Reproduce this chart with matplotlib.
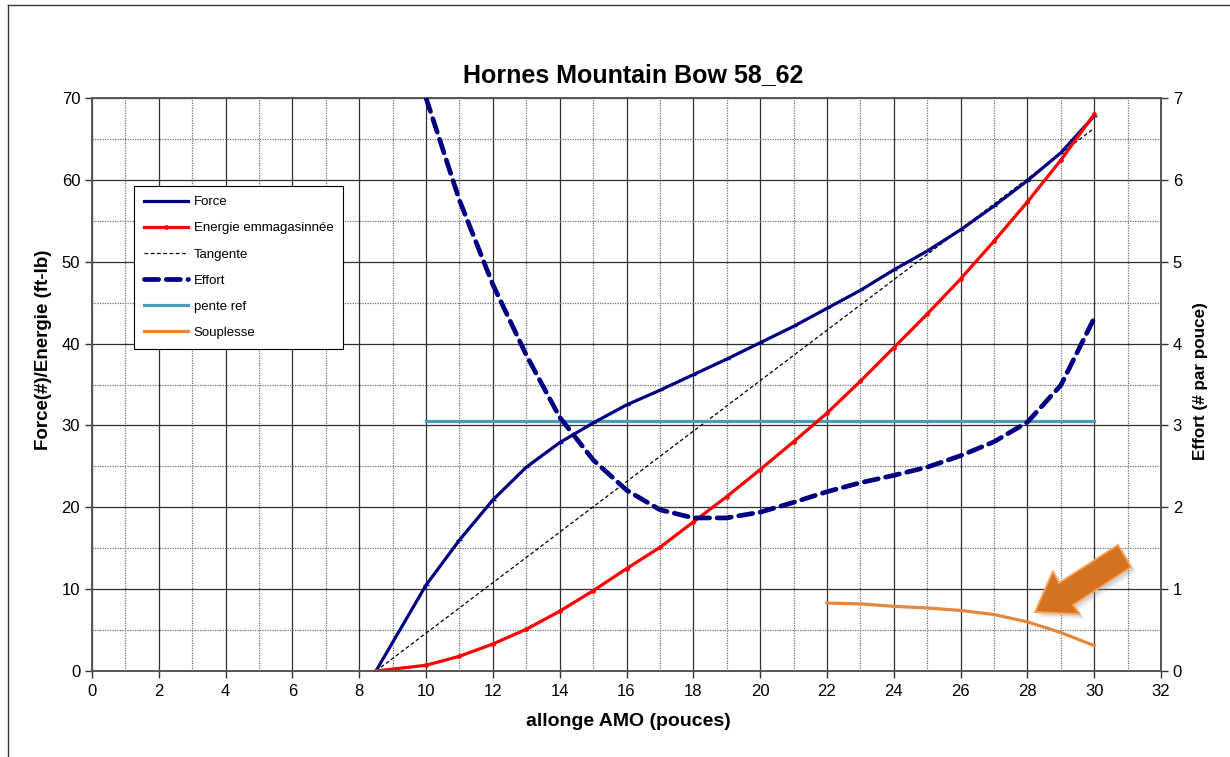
import matplotlib
matplotlib.use("Agg")
import matplotlib.pyplot as plt
from matplotlib.patches import Polygon
from matplotlib.lines import Line2D
from matplotlib.ticker import MultipleLocator

plt.rcParams['font.family'] = ['Liberation Sans', 'DejaVu Sans']

# ---- data ----
draw_x = [8.5, 10, 11, 12, 13, 14, 15, 16, 17, 18, 19, 20, 21, 22, 23, 24, 25, 26, 27, 28, 29, 30]
force = [0, 10.5, 16.0, 20.9, 24.9, 27.9, 30.3, 32.5, 34.3, 36.2, 38.1, 40.1, 42.1, 44.3,
         46.5, 49.0, 51.3, 53.9, 56.8, 59.9, 63.3, 67.8]
energie = [0, 0.7, 1.8, 3.3, 5.1, 7.3, 9.8, 12.5, 15.1, 18.2, 21.3, 24.6, 28.0, 31.5,
           35.4, 39.5, 43.6, 47.9, 52.5, 57.3, 62.4, 68.0]
tangente_x = [8.5, 30]
tangente = [0, 66.3]
effort_x = [10, 11, 12, 13, 14, 15, 16, 17, 18, 19, 20, 21, 22, 23, 24, 25, 26, 27, 28, 29, 30]
effort = [7.0, 5.75, 4.72, 3.86, 3.10, 2.58, 2.21, 1.97, 1.87, 1.87, 1.94, 2.06, 2.19, 2.30,
          2.39, 2.49, 2.63, 2.80, 3.04, 3.49, 4.31]
pente_x = [10, 30]
pente_ref = [30.6, 30.6]
souplesse_x = [22, 23, 24, 25, 26, 27, 28, 29, 30]
souplesse = [8.3, 8.2, 7.9, 7.7, 7.4, 6.9, 6.0, 4.7, 3.1]

title = "Hornes Mountain Bow 58_62"
xlabel = "allonge AMO (pouces)"
ylabel_left = "Force(#)/Energie (ft-lb)"
ylabel_right = "Effort (# par pouce)"
legend_labels = ["Force", "Energie emmagasinnée", "Tangente", "Effort", "pente ref", "Souplesse"]

NAVY = '#000080'
RED = '#FF0000'
TEAL = '#4A9BB8'
ORANGE = '#E3873F'

W, H = 1230, 757
fig = plt.figure(figsize=(W / 100, H / 100), dpi=100)
ax = fig.add_axes([92 / W, 1 - 671 / H, (1161 - 92) / W, (671 - 98) / H])
ax2 = ax.twinx()

# grid
ax.set_xlim(0, 32)
ax.set_ylim(0, 70)
ax2.set_ylim(0, 7)
ax.xaxis.set_major_locator(MultipleLocator(2))
ax.xaxis.set_minor_locator(MultipleLocator(1))
ax.yaxis.set_major_locator(MultipleLocator(10))
ax.yaxis.set_minor_locator(MultipleLocator(5))
ax2.yaxis.set_major_locator(MultipleLocator(1))
ax.grid(which='major', color='#303030', linewidth=0.9, linestyle='-')
ax.grid(which='minor', color='#707070', linewidth=0.9, linestyle=(0, (1, 1)))
ax.set_axisbelow(True)

# series
l_force, = ax.plot(draw_x, force, color=NAVY, lw=2.3, marker='_', markersize=4, zorder=4)
l_tan, = ax.plot(tangente_x, tangente, color='black', lw=0.9, linestyle=(0, (3, 2)), zorder=3)
l_pente, = ax.plot(pente_x, pente_ref, color=TEAL, lw=2.3, zorder=3)
l_soup, = ax.plot(souplesse_x, souplesse, color=ORANGE, lw=2.3, zorder=3)
l_en, = ax.plot(draw_x, energie, color=RED, lw=2.3, marker='o', markersize=2.4, zorder=5)
l_eff, = ax2.plot(effort_x, effort, color=NAVY, lw=3.4, linestyle=(0, (3, 1.6)),
                  solid_capstyle='round', dash_capstyle='round', zorder=4)

# ticks
for a in (ax, ax2):
    a.tick_params(which='major', direction='out', length=5, labelsize=12, width=1, color='#333333')
    a.tick_params(which='minor', length=0)
    for s in a.spines.values():
        s.set_color('#555555')
        s.set_linewidth(1.2)
ax.tick_params(axis='x', pad=4)

ax.set_xlabel(xlabel, fontsize=14, fontweight='bold')
ax.xaxis.set_label_coords(0.502, -0.089)
ax.xaxis.label.set_va('center')
ax.set_ylabel(ylabel_left, fontsize=13.5, fontweight='bold')
ax.yaxis.set_label_coords(-0.045, 0.56)
ax.yaxis.label.set_va('center')
ax2.set_ylabel(ylabel_right, fontsize=12.3, fontweight='bold')
ax2.yaxis.set_label_coords(1.0365, 0.506)
ax2.yaxis.label.set_va('center')
fig.text(633 / W, 1 - 75 / H, title, fontsize=18, fontweight='bold', ha='center', va='center')

# legend
handles = [l_force, l_en, l_tan, l_eff, l_pente, l_soup]
leg = ax2.legend(handles, legend_labels, loc='upper left', bbox_to_anchor=(0.039, 0.846),
                 borderaxespad=0, fontsize=9.5, frameon=True, fancybox=False,
                 edgecolor='black', framealpha=1, handlelength=3.4, handletextpad=0.4,
                 labelspacing=1.05, borderpad=0.75)
leg.get_frame().set_linewidth(0.8)

# decorative arrow (figure pixel coordinates)
pts = [(1035, 612), (1053, 571), (1059, 583), (1118, 545), (1131, 567), (1073, 605), (1080, 614)]
for off, alpha in ((5, 0.15), (3, 0.25)):
    shadow = [((x + off) / W, 1 - (y + off) / H) for x, y in pts]
    fig.add_artist(Polygon(shadow, closed=True, transform=fig.transFigure,
                           facecolor='#909090', edgecolor='none', alpha=alpha, zorder=9))
arr = [(x / W, 1 - y / H) for x, y in pts]
fig.add_artist(Polygon(arr, closed=True, transform=fig.transFigure,
                       facecolor='#D47220', edgecolor='#F7A255', linewidth=1.3, zorder=10))

# outer frame lines
fig.add_artist(Line2D([8 / W, 1], [1 - 5 / H, 1 - 5 / H], transform=fig.transFigure,
                      color='#333333', lw=1))
fig.add_artist(Line2D([8 / W, 8 / W], [0, 1 - 5 / H], transform=fig.transFigure,
                      color='#333333', lw=1))

fig.savefig("out.png", dpi=100)
